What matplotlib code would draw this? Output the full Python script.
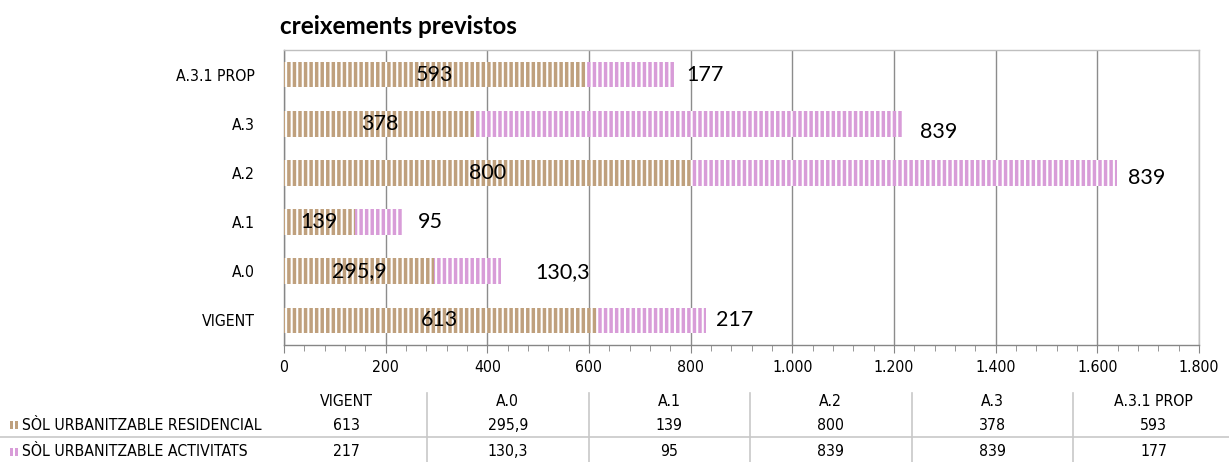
import matplotlib
matplotlib.use("Agg")
import matplotlib.pyplot as plt
from matplotlib.patches import Rectangle
from matplotlib.lines import Line2D
from matplotlib.ticker import MultipleLocator, FuncFormatter

# ---- data ----
categories = ["VIGENT", "A.0", "A.1", "A.2", "A.3", "A.3.1 PROP"]
residencial = [613, 295.9, 139, 800, 378, 593]
activitats = [217, 130.3, 95, 839, 839, 177]
series_names = ["SÒL URBANITZABLE RESIDENCIAL", "SÒL URBANITZABLE ACTIVITATS"]
title = "creixements previstos"

# ---- style ----
W, H = 1229, 462
C_RES = "#BFA07D"
C_ACT = "#D89CD8"
act_label_dx = [10, 35, 15, 11, 17, 11]     # px offset of activitats labels
act_label_dy = [0, -1, 0, -5, -8, 0]         # px offset (negative = down)

plt.rcParams["hatch.linewidth"] = 1.5
TICKFONT = dict(family="DejaVu Sans", stretch="condensed", size=11.3)
VALFONT = dict(family="Lato", size=15.5)

def fmt_num(v):
    if float(v).is_integer():
        s = f"{int(v):,}".replace(",", ".")
    else:
        s = f"{v}".replace(".", ",")
    return s

fig = plt.figure(figsize=(W / 100, H / 100), dpi=100)
px = lambda x: x / W
py = lambda y: 1 - y / H

ax = fig.add_axes([px(284), py(345), px(1199) - px(284), (345 - 50) / H])
ypos = list(range(len(categories)))
b1 = ax.barh(ypos, residencial, height=0.52, color=C_RES, edgecolor="white",
             linewidth=0, hatch="|||", zorder=3)
b2 = ax.barh(ypos, activitats, left=residencial, height=0.52, color=C_ACT,
             edgecolor="white", linewidth=0, hatch="|||", zorder=3)

ax.set_xlim(0, 1800)
ax.set_ylim(-0.5, len(categories) - 0.5)
ax.set_yticks(ypos)
ax.set_yticklabels(categories, **TICKFONT)
ax.tick_params(axis="y", length=0, pad=21)
ax.xaxis.set_major_locator(MultipleLocator(200))
ax.xaxis.set_minor_locator(MultipleLocator(40))
ax.xaxis.set_major_formatter(FuncFormatter(lambda v, p: fmt_num(v)))
for lab in ax.get_xticklabels():
    lab.set_fontfamily("DejaVu Sans")
    lab.set_fontstretch("condensed")
    lab.set_fontsize(11.3)
ax.tick_params(axis="x", which="major", length=6, color="#868686", pad=5)
ax.tick_params(axis="x", which="minor", length=4, color="#868686")
ax.grid(axis="x", which="major", color="#8C8C8C", linewidth=1, zorder=0)
ax.set_axisbelow(True)
for s in ["top", "right"]:
    ax.spines[s].set_color("#BFBFBF")
for s in ["left", "bottom"]:
    ax.spines[s].set_color("#868686")
for s in ax.spines.values():
    s.set_linewidth(1)

# value labels
for i in ypos:
    ax.text(residencial[i] / 2, i, fmt_num(residencial[i]), ha="center",
            va="center", zorder=5, **VALFONT)
    ax.annotate(fmt_num(activitats[i]), xy=(residencial[i] + activitats[i], i),
                xytext=(act_label_dx[i] * 0.72, act_label_dy[i] * 0.72),
                textcoords="offset points", ha="left", va="center",
                zorder=5, **VALFONT)

# title
fig.text(px(280), py(26), title, fontfamily="Lato", fontweight="bold",
         fontsize=17.5, ha="left", va="center")

# ---- data table ----
col_w = 161.5
col_x0 = 265.5
row_y = [402, 425, 452]
for j, cat in enumerate(categories):
    cx = col_x0 + col_w * (j + 0.5)
    fig.text(px(cx), py(row_y[0]), cat, ha="center", va="center", **TICKFONT)
    fig.text(px(cx), py(row_y[1]), fmt_num(residencial[j]), ha="center",
             va="center", **TICKFONT)
    fig.text(px(cx), py(row_y[2]), fmt_num(activitats[j]), ha="center",
             va="center", **TICKFONT)
for j in range(1, len(categories)):
    xx = col_x0 + col_w * j
    fig.add_artist(Line2D([px(xx), px(xx)], [py(393), py(462)],
                          color="#C8C8C8", linewidth=1.2))
fig.add_artist(Line2D([0, 1], [py(437), py(437)], color="#C8C8C8",
                      linewidth=1.2))

for k, (name, col) in enumerate(zip(series_names, [C_RES, C_ACT])):
    yc = row_y[k + 1]
    for sx in (10, 15):
        fig.add_artist(Rectangle((px(sx), py(yc + 4)), px(3), 8 / H,
                                 facecolor=col, edgecolor="none"))
    fig.text(px(22), py(yc), name, ha="left", va="center", **TICKFONT)

fig.savefig("out.png", dpi=100)
